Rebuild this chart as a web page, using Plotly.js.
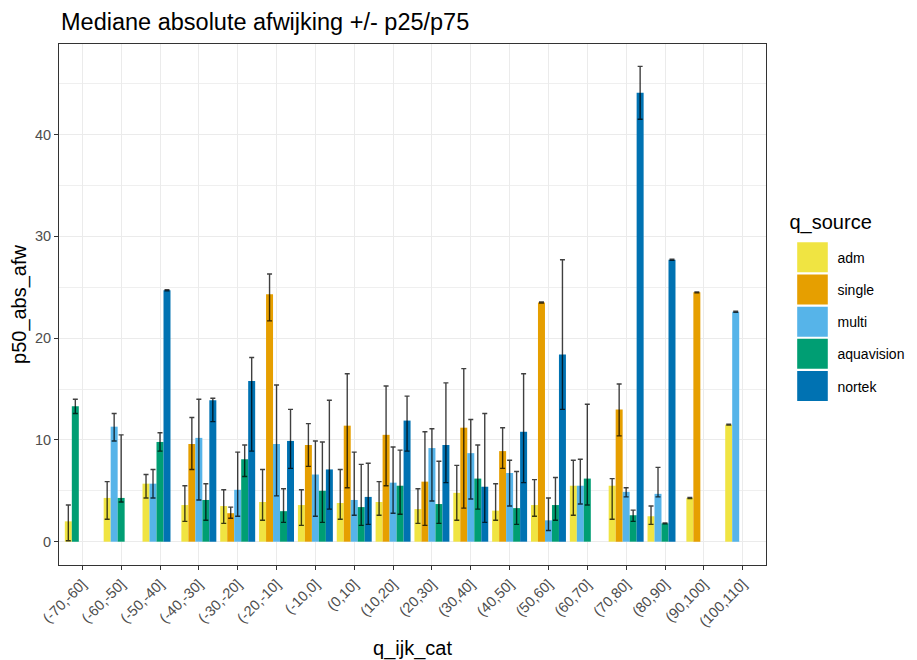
<!DOCTYPE html>
<html>
<head>
<meta charset="utf-8">
<script src="https://cdn.plot.ly/plotly-3.0.1.min.js"></script>
<style>
html,body{margin:0;padding:0;background:#fff;}
#chart{width:917px;height:660px;}
</style>
</head>
<body>
<div id="chart"></div>
<script>
const categories = ["(-70,-60]","(-60,-50]","(-50,-40]","(-40,-30]","(-30,-20]","(-20,-10]","(-10,0]","(0,10]","(10,20]","(20,30]","(30,40]","(40,50]","(50,60]","(60,70]","(70,80]","(80,90]","(90,100]","(100,110]"];
const sourceNames = ["adm","single","multi","aquavision","nortek"];

const admP50 = [2.0, 4.3, 5.7, 3.6, 3.5, 3.9, 3.6, 3.8, 3.9, 3.2, 4.8, 3.05, 3.6, 5.5, 5.5, 2.5, 4.3, 11.5];
const admP25 = [0.1, 2.2, 4.3, 2.0, 1.8, 2.1, 1.6, 2.2, 2.6, 1.8, 2.1, 2.1, 2.5, 2.6, 2.2, 1.7, 4.25, 11.45];
const admP75 = [3.6, 5.9, 6.6, 5.5, 5.1, 7.1, 5.1, 7.1, 5.9, 5.2, 7.5, 5.7, 6.1, 8.0, 6.2, 3.5, 4.35, 11.55];

const singleP50 = [null, null, null, 9.6, 2.8, 24.3, 9.5, 11.4, 10.5, 5.9, 11.2, 8.9, 23.5, null, 13.0, null, 24.5, null];
const singleP25 = [null, null, null, 7.1, 2.3, 21.7, 7.4, 5.3, 5.5, 1.6, 3.3, 7.2, 23.45, null, 10.4, null, 24.45, null];
const singleP75 = [null, null, null, 12.2, 3.4, 26.3, 11.6, 16.5, 15.3, 10.8, 17.0, 11.2, 23.55, null, 15.5, null, 24.55, null];

const multiP50 = [null, 11.3, 5.7, 10.2, 5.1, 9.6, 6.6, 4.1, 5.8, 9.2, 8.7, 6.75, 2.1, 5.5, 4.9, 4.7, null, 22.6];
const multiP25 = [null, 9.9, 4.3, 4.1, 2.5, 4.5, 2.5, 2.6, 2.8, 4.0, 4.2, 3.5, 1.1, 3.7, 4.4, 4.4, null, 22.55];
const multiP75 = [null, 12.6, 7.1, 14.0, 8.8, 15.4, 9.9, 8.8, 9.3, 11.1, 12.0, 8.0, 4.3, 8.1, 5.3, 7.3, null, 22.65];

const aquaP50 = [13.3, 4.3, 9.8, 4.1, 8.1, 3.0, 5.0, 3.4, 5.5, 3.7, 6.2, 3.3, 3.6, 6.2, 2.6, 1.8, null, null];
const aquaP25 = [12.6, 3.9, 8.9, 2.1, 6.4, 1.9, 1.9, 1.6, 2.7, 1.8, 3.2, 1.7, 2.1, 3.6, 2.0, 1.75, null, null];
const aquaP75 = [14.0, 10.5, 10.7, 5.7, 9.5, 5.2, 9.8, 7.6, 9.0, 7.9, 9.5, 6.9, 6.3, 13.5, 3.1, 1.85, null, null];

const nortekP50 = [null, null, 24.7, 13.9, 15.8, 9.9, 7.1, 4.4, 11.9, 9.5, 5.4, 10.8, 18.4, null, 44.1, 27.7, null, null];
const nortekP25 = [null, null, 24.65, 11.8, 8.9, 7.2, 3.2, 1.7, 8.9, 5.8, 1.9, 5.8, 13.0, null, 41.5, 27.65, null, null];
const nortekP75 = [null, null, 24.75, 14.1, 18.1, 13.0, 13.9, 7.7, 14.3, 15.6, 12.6, 16.5, 27.7, null, 46.7, 27.75, null, null];

const colors = ["#F0E442","#E69F00","#56B4E9","#009E73","#0072B2"];

const p50s = [admP50, singleP50, multiP50, aquaP50, nortekP50];
const p25s = [admP25, singleP25, multiP25, aquaP25, nortekP25];
const p75s = [admP75, singleP75, multiP75, aquaP75, nortekP75];

// dodge like ggplot position_dodge(preserve = "single"): bars packed from the left of each category
const dodge = 0.9, nSrc = sourceNames.length, barW = dodge / nSrc;
const traces = [];
p50s.forEach((vals, s) => {
  const offs = vals.map((v, i) => {
    let k = 0;
    for (let t = 0; t < s; t++) if (p50s[t][i] != null) k++;
    return -dodge / 2 + k * barW;
  });
  traces.push({
    type: 'bar',
    name: sourceNames[s],
    legendgroup: sourceNames[s],
    x: categories,
    y: vals,
    offset: offs,
    width: barW,
    marker: {color: colors[s], line: {width: 0}},
    error_y: {
      type: 'data', symmetric: false,
      array: vals.map((v, i) => v == null ? null : p75s[s][i] - v),
      arrayminus: vals.map((v, i) => v == null ? null : v - p25s[s][i]),
      color: 'rgba(0,0,0,0.75)', thickness: 1.4, width: 2.5
    },
    hoverinfo: 'x+y+name'
  });
});

const font = "'Liberation Sans', Arial, sans-serif";
const layout = {
  width: 917, height: 660,
  margin: {l: 59, r: 151, t: 44, b: 95, autoexpand: false},
  paper_bgcolor: '#ffffff', plot_bgcolor: '#ffffff',
  font: {family: font, color: '#000'},
  barmode: 'overlay',
  title: {text: 'Mediane absolute afwijking +/- p25/p75', x: 61/917, xanchor: 'left', xref: 'container',
          y: 1 - 22/660, yanchor: 'middle', yref: 'container', font: {size: 23.5, color: '#000', family: font}},
  xaxis: {
    type: 'category', range: [-0.6, categories.length - 0.4],
    tickangle: -45, tickfont: {size: 14.5, color: '#4D4D4D', family: font},
    ticks: 'outside', ticklen: 4, tickcolor: '#333333', tickwidth: 1,
    showgrid: true, gridcolor: '#EBEBEB', gridwidth: 1.1,
    showline: true, linecolor: '#333333', linewidth: 1, mirror: true,
    zeroline: false,
    title: {text: 'q_ijk_cat', font: {size: 20, color: '#000', family: font}, standoff: 12}
  },
  yaxis: {
    range: [-2.29, 48.9], tickvals: [0, 10, 20, 30, 40], ticktext: ['0','10','20','30','40'],
    tickfont: {size: 14.5, color: '#4D4D4D', family: font},
    ticks: 'outside', ticklen: 4, tickcolor: '#333333', tickwidth: 1,
    showgrid: true, gridcolor: '#EBEBEB', gridwidth: 1.1,
    minor: {tickvals: [5, 15, 25, 35, 45], showgrid: true, gridcolor: '#EFEFEF', gridwidth: 0.7, ticks: ''},
    showline: true, linecolor: '#333333', linewidth: 1, mirror: true,
    zeroline: false,
    title: {text: 'p50_abs_afw', font: {size: 20, color: '#000', family: font}, standoff: 2}
  },
  showlegend: true,
  legend: {
    x: 1.0304, xanchor: 'left', y: 0.492, yanchor: 'middle',
    font: {size: 14, color: '#000', family: font},
    title: {text: 'q_source', font: {size: 20, color: '#000', family: font}, side: 'top'},
    itemwidth: 40, tracegroupgap: 11, traceorder: 'grouped',
    bgcolor: 'rgba(0,0,0,0)', borderwidth: 0
  }
};

Plotly.newPlot('chart', traces, layout, {displayModeBar: false}).then(gd => {
  gd.querySelectorAll('.legend .legendpoints path').forEach(p => {
    const t = p.getAttribute('transform') || '';
    p.setAttribute('transform', t + ' scale(2.55,2.5)');
  });
  const tt = gd.querySelector('.legend .legendtitletext');
  if (tt) {
    const t = tt.getAttribute('transform') || '';
    tt.setAttribute('transform', 'translate(0,-13) ' + t);
  }
});
</script>
</body>
</html>
